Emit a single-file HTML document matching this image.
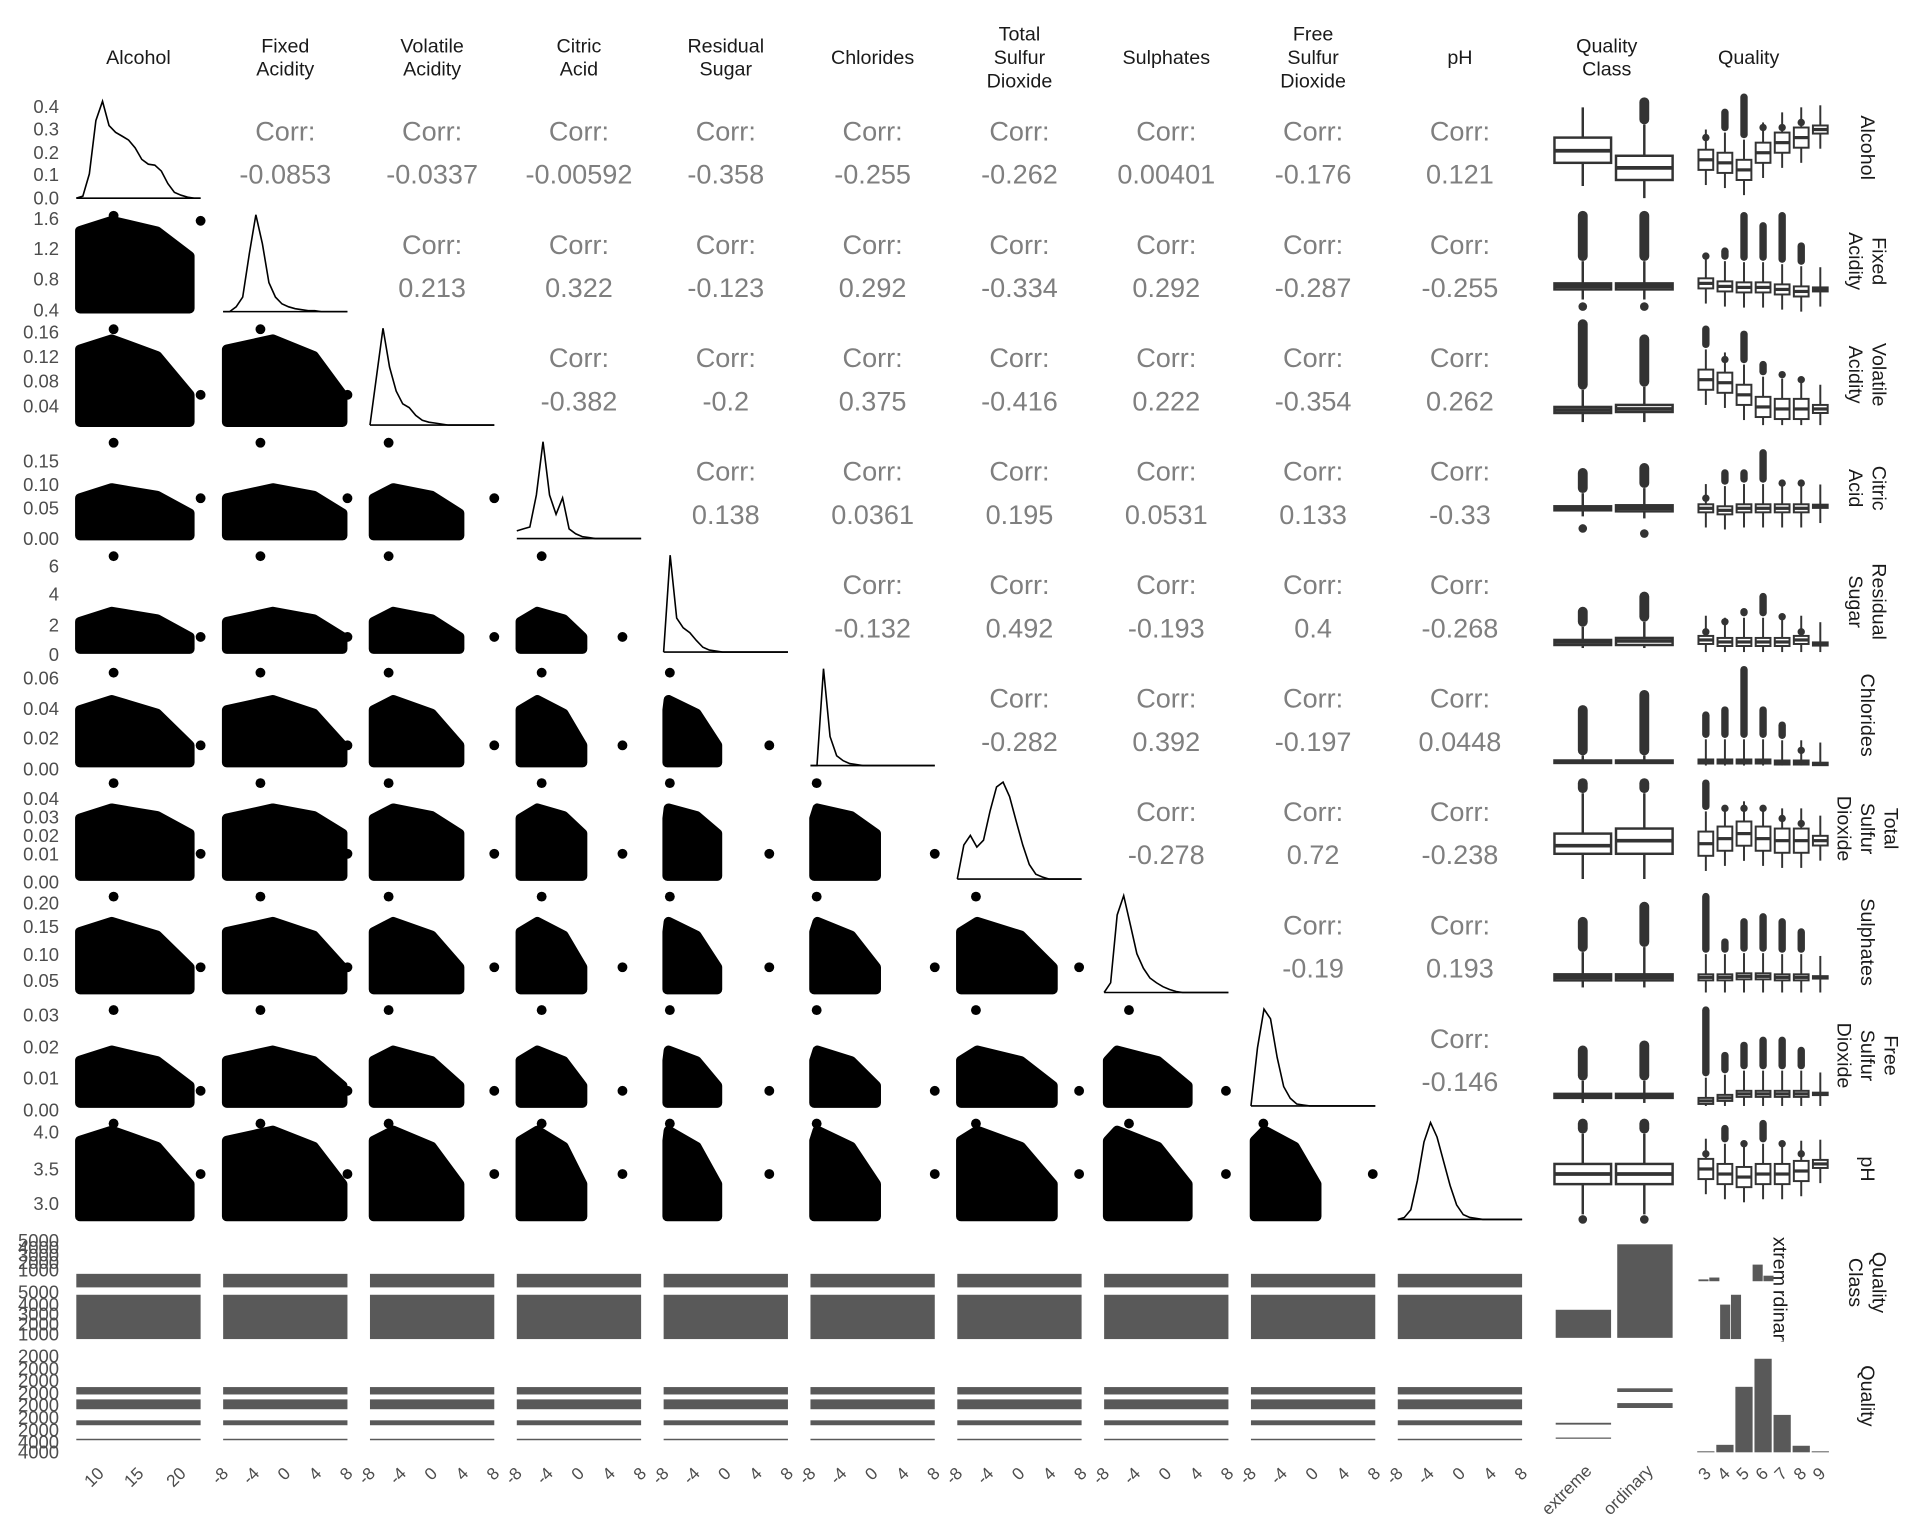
<!DOCTYPE html>
<html><head><meta charset="utf-8">
<style>
html,body{margin:0;padding:0;background:#fff;}
svg{display:block;}
text{font-family:"Liberation Sans",Arial,sans-serif;}
</style></head>
<body>
<svg id="chart" width="1920" height="1536" viewBox="0 0 1560 1248" xmlns="http://www.w3.org/2000/svg">
<defs>
<clipPath id="facetclip1"><rect x="1439" y="1005" width="14" height="39"/></clipPath>
<clipPath id="facetclip2"><rect x="1439" y="1048" width="14" height="42"/></clipPath>
</defs>
</svg>
<script>
// ---------- data ----------
const varNames = [["Alcohol"],["Fixed","Acidity"],["Volatile","Acidity"],["Citric","Acid"],["Residual","Sugar"],["Chlorides"],["Total","Sulfur","Dioxide"],["Sulphates"],["Free","Sulfur","Dioxide"],["pH"],["Quality","Class"],["Quality"]];
const corrValues = [
 [null,"-0.0853","-0.0337","-0.00592","-0.358","-0.255","-0.262","0.00401","-0.176","0.121"],
 [null,null,"0.213","0.322","-0.123","0.292","-0.334","0.292","-0.287","-0.255"],
 [null,null,null,"-0.382","-0.2","0.375","-0.416","0.222","-0.354","0.262"],
 [null,null,null,null,"0.138","0.0361","0.195","0.0531","0.133","-0.33"],
 [null,null,null,null,null,"-0.132","0.492","-0.193","0.4","-0.268"],
 [null,null,null,null,null,null,"-0.282","0.392","-0.197","0.0448"],
 [null,null,null,null,null,null,null,"-0.278","0.72","-0.238"],
 [null,null,null,null,null,null,null,null,"-0.19","0.193"],
 [null,null,null,null,null,null,null,null,null,"-0.146"]
];
const densities = [
 [0,0.02,0.25,0.8,1.0,0.75,0.68,0.64,0.6,0.52,0.4,0.35,0.34,0.28,0.15,0.06,0.03,0.01,0,0],
 [0,0,0.05,0.15,0.6,1,0.7,0.3,0.15,0.08,0.05,0.03,0.02,0.01,0.01,0,0,0,0,0],
 [0,0.5,1,0.6,0.35,0.22,0.18,0.1,0.05,0.03,0.02,0.01,0,0,0,0,0,0,0,0],
 [0.08,0.1,0.12,0.45,1,0.45,0.25,0.42,0.1,0.05,0.02,0.01,0,0,0,0,0,0,0,0],
 [0,1,0.35,0.25,0.2,0.12,0.05,0.02,0.01,0,0,0,0,0,0,0,0,0,0,0],
 [0,0,1,0.3,0.1,0.05,0.02,0.01,0,0,0,0,0,0,0,0,0,0,0,0],
 [0,0.35,0.45,0.33,0.4,0.7,0.95,1,0.85,0.6,0.35,0.15,0.05,0.02,0,0,0,0,0,0],
 [0,0.1,0.8,1,0.7,0.4,0.25,0.15,0.1,0.06,0.03,0.01,0,0,0,0,0,0,0,0],
 [0,0.6,1,0.9,0.5,0.2,0.08,0.02,0.01,0,0,0,0,0,0,0,0,0,0,0],
 [0,0.02,0.1,0.4,0.8,1,0.85,0.6,0.35,0.15,0.05,0.02,0.01,0,0,0,0,0,0,0]
];
// scatter blob descriptors (normalized panel coords)
const rowTop      = [null,0.1,0.15,0.5,0.6,0.35,0.3,0.3,0.45,0.12];
const rowTopRight = [null,0.45,0.7,0.75,0.85,0.8,0.55,0.75,0.8,0.65];
const rowOutTopY  = [null,0.05,0.05,0.05,0.05,0.08,0.05,0.05,0.05,0.05];
const rowOutRightY= [null,0.1,0.7,0.6,0.85,0.8,0.75,0.75,0.85,0.55];
const colXEnd     = [0.95,1.0,0.75,0.55,0.45,0.55,0.8,0.7,0.55];
const colPeak     = [0.3,0.4,0.25,0.3,0.05,0.1,0.2,0.15,0.2];
const colOutTopX  = [0.3,0.3,0.15,0.2,0.05,0.05,0.15,0.2,0.1];
const colOutRightX= [1.0,1.0,1.0,0.85,0.85,1.0,0.98,0.98,0.98];
// boxplots: [q1, med, q3, whiskLo(top), whiskHi(bottom), outTop, outBottom]
const classExtreme = [
 [0.4,0.53,0.65,0.1,0.88,null,null],[0.72,0.75,0.78,0.5,0.88,0.05,0.95],[0.82,0.85,0.88,0.65,0.97,0.0,null],
 [0.68,0.7,0.72,0.55,0.78,0.35,0.9],[0.88,0.9,0.93,0.75,0.96,0.6,null],[0.95,0.96,0.97,0.9,0.98,0.45,null],
 [0.55,0.67,0.75,0.15,1.0,0.05,null],[0.82,0.85,0.88,0.6,0.95,0.3,null],[0.88,0.9,0.92,0.75,0.97,0.45,null],
 [0.45,0.55,0.65,0.15,0.95,0.05,1.0]];
const classOrdinary = [
 [0.58,0.7,0.82,0.27,1.0,0.05,null],[0.72,0.75,0.78,0.5,0.88,0.05,0.95],[0.8,0.84,0.87,0.62,0.97,0.15,null],
 [0.67,0.7,0.73,0.5,0.8,0.3,0.95],[0.86,0.89,0.93,0.7,0.96,0.45,null],[0.95,0.96,0.97,0.9,0.98,0.3,null],
 [0.5,0.62,0.75,0.15,1.0,0.05,null],[0.82,0.85,0.88,0.55,0.95,0.15,null],[0.88,0.9,0.92,0.75,0.97,0.4,null],
 [0.45,0.55,0.65,0.15,0.95,0.05,1.0]];
const qualityMed = [
 [0.62,0.65,0.72,0.55,0.45,0.4,0.32],[0.72,0.75,0.76,0.76,0.78,0.8,0.78],[0.55,0.58,0.7,0.82,0.84,0.84,0.84],
 [0.7,0.72,0.7,0.7,0.7,0.7,0.68],[0.88,0.9,0.9,0.9,0.9,0.88,0.92],[0.96,0.96,0.96,0.96,0.97,0.97,0.98],
 [0.65,0.6,0.55,0.6,0.62,0.62,0.62],[0.85,0.85,0.84,0.84,0.85,0.85,0.85],[0.95,0.92,0.88,0.88,0.88,0.88,0.88],
 [0.5,0.55,0.58,0.55,0.55,0.52,0.45]];
const qualityIqr = [0.1,0.05,0.1,0.04,0.04,0.02,0.12,0.03,0.03,0.1];
const qualityOutTop = [
 [0.4,0.15,0.0,0.3,0.3,0.25,0.4],[0.45,0.4,0.05,0.15,0.05,0.35,0.55],[0.05,0.35,0.1,0.4,0.5,0.55,0.7],
 [0.6,0.35,0.35,0.15,0.45,0.45,0.65],[0.8,0.7,0.6,0.45,0.65,0.8,0.8],[0.5,0.45,0.05,0.45,0.6,0.85,0.95],
 [0.05,0.3,0.3,0.3,0.4,0.45,0.55],[0.05,0.5,0.3,0.25,0.3,0.4,0.75],[0.05,0.5,0.4,0.35,0.35,0.45,0.75],
 [0.35,0.1,0.25,0.05,0.25,0.35,0.6]];
const qualityLevels = ["3","4","5","6","7","8","9"];
const qualityCounts = [0.01,0.08,0.7,1.0,0.4,0.07,0.005];
const classCounts = [0.3,1.0];
const classLabels = ["extreme","ordinary"];
const qcTopFacet = [0.05,0.1,0,0,0,0.45,0.15];
const qcBottomFacet = [0,0,0.7,0.9,0,0,0];
// ---------- helpers ----------
const svg = document.getElementById('chart');
const NS = 'http://www.w3.org/2000/svg';
function mk(tag, attrs, parent){const e=document.createElementNS(NS,tag);for(const k in attrs)e.setAttribute(k,attrs[k]);(parent||svg).appendChild(e);return e;}
const px = c => 62 + 119.3*c;
const PW = 101;
const py = r => 79 + 92.2*r;
const PH = 82;
const sx = (c,v) => px(c) + v*PW;
const sy = (r,v) => py(r) + v*PH;

// column headers
varNames.forEach((lines,i)=>{
  const cx = px(i)+PW/2 - (i===11?4:0);
  const n = lines.length;
  lines.forEach((ln,j)=>{
    const t = mk('text',{x:cx,y:46+(j-(n-1)/2)*19+6,'text-anchor':'middle','font-size':16,fill:'#1a1a1a'});
    t.textContent = ln;
    
    
  });
  const cy = py(i)+PH/2;
  const g = mk('g',{transform:`translate(${1518},${cy}) rotate(90)`});
  
  
  lines.forEach((ln,j)=>{
    const t = mk('text',{x:0,y:(j-(n-1)/2)*19+6,'text-anchor':'middle','font-size':16,fill:'#1a1a1a'},g);
    t.textContent = ln;
  });
});

// y tick labels (first column)
const yTicks = [
 [["0.4",87],["0.3",105],["0.2",124],["0.1",142],["0.0",161]],
 [["1.6",178],["1.2",202],["0.8",227],["0.4",252]],
 [["0.16",270],["0.12",290],["0.08",310],["0.04",330]],
 [["0.15",375],["0.10",394],["0.05",413],["0.00",438]],
 [["6",460],["4",483],["2",508],["0",532]],
 [["0.06",551],["0.04",576],["0.02",600],["0.00",625]],
 [["0.04",649],["0.03",664],["0.02",679],["0.01",694],["0.00",717]],
 [["0.20",734],["0.15",753],["0.10",776],["0.05",797]],
 [["0.03",825],["0.02",851],["0.01",876],["0.00",902]],
 [["4.0",920],["3.5",950],["3.0",978]],
 [["5000",1008],["4000",1014],["3000",1020],["2000",1026],["1000",1032],["5000",1050],["4000",1060],["3000",1068],["2000",1076],["1000",1084]],
 [["2000",1102],["2000",1112],["2000",1122],["2000",1132],["2000",1142],["2000",1152],["2000",1162],["4000",1172],["4000",1180]]
];
yTicks.forEach(row=>row.forEach(([lab,y])=>{
  const t = mk('text',{x:48,y:y+5,'text-anchor':'end','font-size':15,fill:'#4d4d4d'});
  t.textContent = lab;
  
  
}));

// x tick labels
function xlab(x,lab){
  const t = mk('text',{x:0,y:0,'text-anchor':'end','font-size':14,fill:'#4d4d4d',transform:`translate(${x+5},${1198}) rotate(-45)`});
  t.textContent = lab;
  
  
}
[["10",0.18],["15",0.5],["20",0.84]].forEach(([l,v])=>xlab(sx(0,v),l));
const xTickLab = ["-8","-4","0","4","8"];
for(let c=1;c<10;c++) xTickLab.forEach((l,k)=>xlab(px(c)+k*PW/4,l));
classLabels.forEach((l,k)=>{
  const t = mk('text',{x:0,y:0,'text-anchor':'end','font-size':14,fill:'#4d4d4d',transform:`translate(${1294+k*50},${1196}) rotate(-45)`});
  t.textContent = l;
  
  
});
qualityLevels.forEach((l,k)=>xlab(1386+k*15.5,l));

// diagonal densities
densities.forEach((d,i)=>{
  const pts = d.map((v,k)=>`${sx(i,k/(d.length-1)).toFixed(1)},${sy(i,1-v*0.96).toFixed(1)}`).join(' ');
  const p = mk('polyline',{points:pts,fill:'none',stroke:'#000','stroke-width':1.3});
  
  
  const b = mk('line',{x1:px(i),x2:px(i)+PW,y1:sy(i,1),y2:sy(i,1),stroke:'#000','stroke-width':1.3});
  
  
});

// upper correlations
corrValues.forEach((row,r)=>row.forEach((v,c)=>{
  if(v===null) return;
  const cx = px(c)+PW/2, y0 = py(r);
  const t1 = mk('text',{x:cx,y:y0+35,'text-anchor':'middle','font-size':22,fill:'#7f7f7f'});
  t1.textContent = 'Corr:';
  
  
  const t2 = mk('text',{x:cx,y:y0+70,'text-anchor':'middle','font-size':22,fill:'#7f7f7f'});
  t2.textContent = v;
  
  
}));

// lower scatter blobs
for(let r=1;r<10;r++){
  for(let c=0;c<r;c++){
    const xe = colXEnd[c], pk = Math.max(colPeak[c]*xe,0.04);
    const top = rowTop[r], tr = rowTopRight[r];
    const pts = [[0.03,0.97],[0.03,Math.min(top+0.1,0.95)],[pk,top],[pk+(xe-pk)*0.55,top+(tr-top)*0.3],[xe*0.96,tr],[xe*0.96,0.97]]
      .map(([x,y])=>`${sx(c,x).toFixed(1)},${sy(r,y).toFixed(1)}`).join(' ');
    const p = mk('polygon',{points:pts,fill:'#000',stroke:'#000','stroke-width':8,'stroke-linejoin':'round'});
    
    
    const o1 = mk('circle',{cx:sx(c,colOutTopX[c]),cy:sy(r,rowOutTopY[r]),r:4,fill:'#000'});
    
    
    const o2 = mk('circle',{cx:sx(c,colOutRightX[c]),cy:sy(r,rowOutRightY[r]),r:4,fill:'#000'});
    
    
  }
}

// boxplots
function box(cx,w,r,b,name){
  const [q1,md,q3,wl,wh,ot,ob] = b;
  const g = mk('g',{});
  
  
  const sw = w>20?2:1.6;
  mk('line',{x1:cx,x2:cx,y1:sy(r,wl),y2:sy(r,wh),stroke:'#333','stroke-width':sw},g);
  if(ot!==null){
    mk('line',{x1:cx,x2:cx,y1:sy(r,ot),y2:sy(r,Math.max(ot,wl-0.05)),stroke:'#333','stroke-width':w>20?8:6,'stroke-linecap':'round'},g);
  }
  if(ob!==null){
    mk('circle',{cx:cx,cy:sy(r,ob),r:3.5,fill:'#333'},g);
  }
  mk('rect',{x:cx-w/2,y:sy(r,q1),width:w,height:Math.max(sy(r,q3)-sy(r,q1),2),fill:'#fff',stroke:'#333','stroke-width':sw},g);
  mk('line',{x1:cx-w/2,x2:cx+w/2,y1:sy(r,md),y2:sy(r,md),stroke:'#333','stroke-width':sw+1},g);
}
for(let r=0;r<10;r++){
  box(1286,46,r,classExtreme[r],'class-boxplot');
  box(1336,46,r,classOrdinary[r],'class-boxplot');
  qualityMed[r].forEach((m,k)=>{
    const iq = qualityIqr[r]*(k===6?0.4:1);
    const b = [m-iq,m,m+iq,Math.max(m-iq-0.2,0.02),Math.min(m+iq+0.15,1),k===6?null:qualityOutTop[r][k],null];
    box(1386+k*15.5,12,r,b,'quality-boxplot');
  });
}

// row 11: quality class bars
for(let c=0;c<10;c++){
  const a = mk('rect',{x:px(c),y:1035,width:PW,height:11,fill:'#595959'});
  
  
  const b = mk('rect',{x:px(c),y:1052,width:PW,height:36,fill:'#595959'});
  
  
}
classCounts.forEach((v,k)=>{
  const h = v*76;
  const b = mk('rect',{x:1264+k*50,y:1087-h,width:45,height:h,fill:'#595959'});
  
  
});
qualityLevels.forEach((l,k)=>{
  const x = 1380+k*8.8;
  const ht = qcTopFacet[k]*30, hb = qcBottomFacet[k]*40;
  if(ht>0){const b=mk('rect',{x:x,y:1041-ht,width:8.2,height:Math.max(ht,1.2),fill:'#595959'});
    
    }
  if(hb>0){const b=mk('rect',{x:x,y:1088-hb,width:8.2,height:hb,fill:'#595959'});
    
    }
});
[["extreme",1441,1025,'facetclip1'],["ordinary",1441,1068,'facetclip2']].forEach(([l,x,y,cp])=>{
  const g = mk('g',{'clip-path':`url(#${cp})`});
  
  
  const t = mk('text',{x:0,y:0,'text-anchor':'middle','font-size':16,fill:'#1a1a1a',transform:`translate(${x},${y}) rotate(90)`},g);
  t.textContent = l;
  
  
});

// row 12: quality lines & histogram
const qLineY = [[1127,6],[1137,8],[1154,4],[1169,1.2]];
for(let c=0;c<10;c++) qLineY.forEach(([y,h])=>{
  const b = mk('rect',{x:px(c),y:y,width:PW,height:h,fill:'#595959'});
  
  
});
[[1264,1156,1.5],[1264,1168,1],[1314,1128,3],[1314,1140,4]].forEach(([x,y,h])=>{
  const b = mk('rect',{x:x,y:y,width:45,height:h,fill:'#595959'});
  
  
});
qualityCounts.forEach((v,k)=>{
  const h = Math.max(v*76,0.8);
  const b = mk('rect',{x:1379+k*15.5,y:1180-h,width:14,height:h,fill:'#595959'});
  
  
});
</script>
</body></html>
